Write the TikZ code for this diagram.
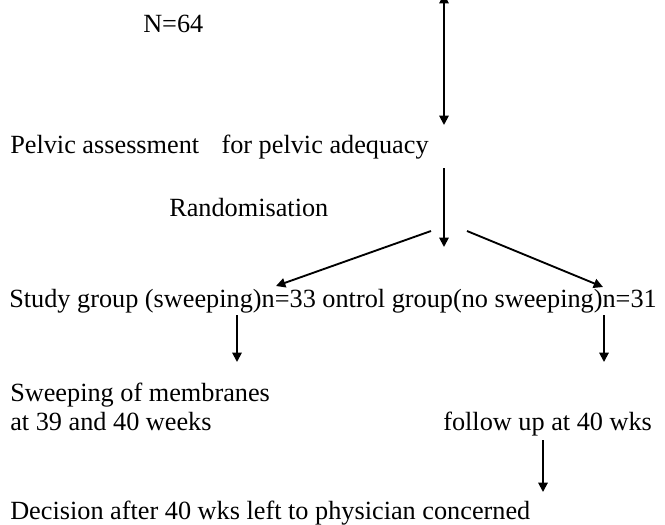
\documentclass[tikz,border=0pt]{standalone}
\usepackage{fontspec}
\setmainfont{Liberation Serif}
\usetikzlibrary{arrows.meta}

\begin{document}
\begin{tikzpicture}[x=0.75pt, y=-0.75pt,
    >={Triangle[length=7pt,width=7pt]},
    lbl/.style={anchor=base west, inner sep=0pt, font=\fontsize{19.7}{24}\selectfont},
    arr/.style={line width=1.4pt, ->}]
    \useasboundingbox (0,0) rectangle (665,525);

    % Labels
    \node [lbl] (total) at (143,32) {N=64};
    \node [lbl] (pelvic) at (10,153) {Pelvic assessment\hspace{0.6em} for pelvic adequacy};
    \node [lbl] (random) at (169,216) {Randomisation};
    \node [lbl] (groups) at (9,307) {Study group (sweeping)n=33 ontrol group(no sweeping)n=31};
    \node [lbl] (sweep) at (10,401) {Sweeping of membranes};
    \node [lbl] (sweepwk) at (10,430) {at 39 and 40 weeks};
    \node [lbl] (follow) at (443,430) {follow up at 40 wks};
    \node [lbl] (decide) at (10,519) {Decision after 40 wks left to physician concerned};

    % Arrow ends
    \coordinate (intop) at (444,-6);
    \coordinate (inend) at (444,125);
    \coordinate (randtop) at (444,168);
    \coordinate (randend) at (444,247);
    \coordinate (splitl) at (431,231);
    \coordinate (splitr) at (467,231);
    \coordinate (studyin) at (276,286);
    \coordinate (ctrlin) at (603,287);
    \coordinate (studyout) at (237,315);
    \coordinate (sweepin) at (237,362);
    \coordinate (ctrlout) at (604,315);
    \coordinate (followin) at (604,362);
    \coordinate (followout) at (543,440);
    \coordinate (decidein) at (543,492);

    % Arrows
    \draw [arr, <->] (intop) -- (inend);
    \draw [arr] (randtop) -- (randend);
    \draw [arr] (splitl) -- (studyin);
    \draw [arr] (splitr) -- (ctrlin);
    \draw [arr] (studyout) -- (sweepin);
    \draw [arr] (ctrlout) -- (followin);
    \draw [arr] (followout) -- (decidein);
\end{tikzpicture}
\end{document}
